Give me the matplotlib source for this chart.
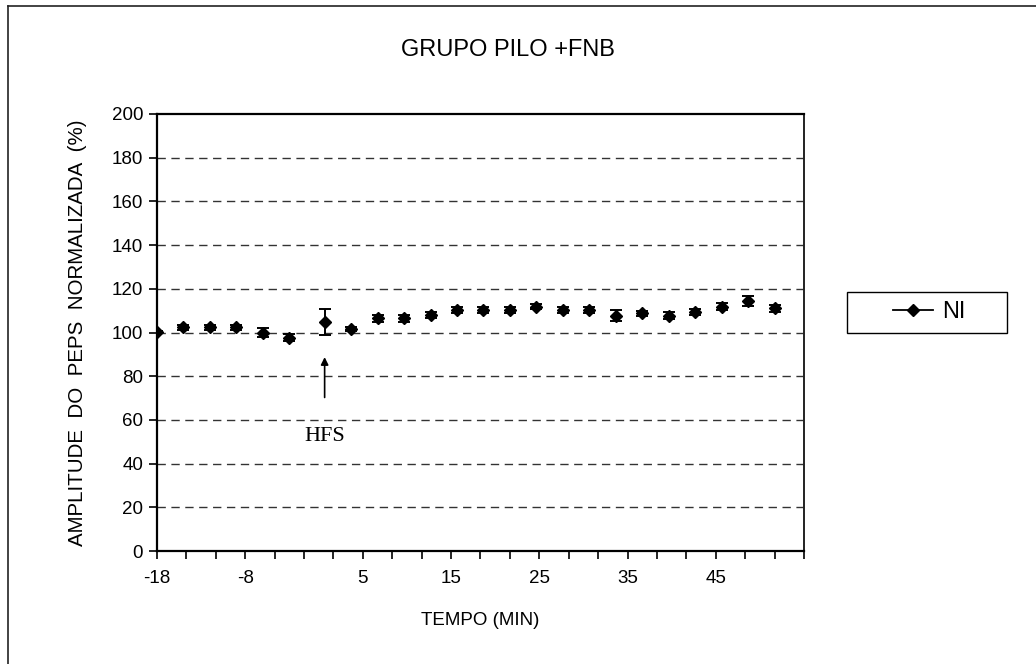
import numpy as np
import matplotlib
matplotlib.use("Agg")
import matplotlib.pyplot as plt
from matplotlib.lines import Line2D
from matplotlib.patches import Rectangle

plt.rcParams['font.family'] = ['Liberation Sans', 'DejaVu Sans']

# data (time in min, normalised EPSP amplitude %)
tempo = [-18, -15, -12, -9, -6, -3, 1, 4, 7, 10, 13, 16, 19, 22, 25, 28, 31, 34, 37, 40, 43, 46, 49, 52]
amplitude = [100.1, 102.4, 102.4, 102.4, 100.0, 97.6, 104.8, 101.6, 106.5, 106.5, 108.0, 110.3,
             110.3, 110.3, 111.8, 110.3, 110.3, 107.7, 108.8, 107.7, 109.5, 111.8, 114.4, 111.1]
erro = [0.5, 1.2, 1.2, 1.2, 2.0, 1.5, 5.8, 1.0, 1.5, 1.5, 1.3, 1.3,
        1.3, 1.3, 1.2, 1.3, 1.3, 2.4, 1.2, 1.5, 1.3, 1.5, 2.2, 1.5]

x_step = 10 / 3
x_ticks = [-18 + k * x_step for k in range(23)]
x_label_idx = {0: '-18', 3: '-8', 7: '5', 10: '15', 13: '25', 16: '35', 19: '45'}
y_ticks = list(range(0, 201, 20))

fig = plt.figure(figsize=(10.36, 6.64), dpi=100)
ax = fig.add_axes([157 / 1036, 1 - 551 / 664, (804 - 157) / 1036, (551 - 114) / 664])

ax.errorbar(tempo, amplitude, yerr=erro, fmt='D', color='black', markersize=6.5,
            ecolor='black', elinewidth=1.4, capsize=4, capthick=1.4, linestyle='none')

ax.set_xlim(x_ticks[0], x_ticks[-1])
ax.set_ylim(0, 200)
ax.set_xticks(x_ticks)
ax.set_xticklabels([x_label_idx.get(i, '') for i in range(len(x_ticks))])
ax.set_yticks(y_ticks)
ax.tick_params(axis='both', direction='out', length=6, width=1.2, labelsize=13.5, colors='black')
ax.tick_params(axis='x', pad=8)
ax.tick_params(axis='y', pad=4)

for yv in y_ticks[1:-1]:
    ax.axhline(yv, color='#333333', linestyle=(0, (6, 4)), linewidth=1, zorder=0)

for side in ['left', 'bottom', 'top']:
    ax.spines[side].set_linewidth(1.6)
    ax.spines[side].set_color('black')
ax.spines['right'].set_linewidth(1.4)
ax.spines['right'].set_color('#222222')

# HFS arrow and label
ax.annotate('', xy=(1, 90), xytext=(1, 69),
            arrowprops=dict(arrowstyle='-|>', color='black', lw=1.2, mutation_scale=11))
ax.text(1, 52.5, 'HFS', ha='center', va='center', fontsize=16, family='Liberation Serif')

ax.set_xlabel('TEMPO (MIN)', fontsize=13.5, labelpad=18)
ax.set_ylabel('AMPLITUDE  DO  PEPS  NORMALIZADA  (%)', fontsize=14.8, labelpad=18)
fig.text(508 / 1036, 1 - 50 / 664, 'GRUPO PILO +FNB', ha='center', va='center', fontsize=17)

# legend box
fig.add_artist(Rectangle((847 / 1036, 1 - 333 / 664), 160 / 1036, 41 / 664,
                         transform=fig.transFigure, facecolor='white', edgecolor='black',
                         linewidth=1.0))
handle = Line2D([], [], color='black', marker='D', markersize=6, linewidth=1.3)
leg = fig.legend([handle], ['NI'], loc='center', bbox_to_anchor=(929 / 1036, 1 - 312 / 664),
                 fontsize=17, frameon=False, handlelength=1.7, handletextpad=0.4,
                 borderpad=0, borderaxespad=0)

# outer chart frame (left and top edges visible)
fig.add_artist(Line2D([8 / 1036, 8 / 1036], [0, 1 - 6 / 664], transform=fig.transFigure,
                      color='#222222', linewidth=1.2))
fig.add_artist(Line2D([8 / 1036, 1], [1 - 6 / 664, 1 - 6 / 664], transform=fig.transFigure,
                      color='#222222', linewidth=1.2))

fig.savefig('out.png', dpi=100, facecolor='white')
